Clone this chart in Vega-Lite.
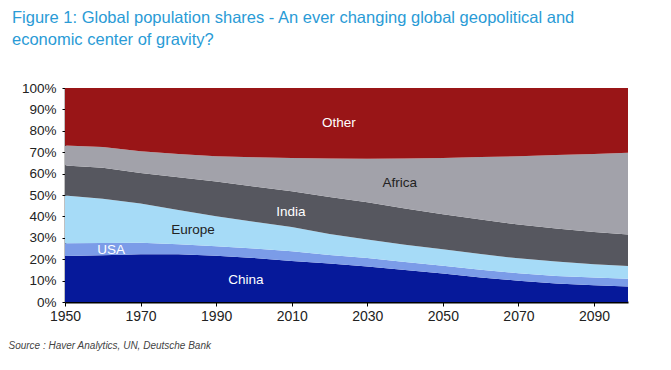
{
  "$schema": "https://vega.github.io/schema/vega-lite/v6.json",
  "width": 563,
  "height": 214,
  "autosize": "none",
  "padding": {"left": 65, "top": 88, "right": 43, "bottom": 68},
  "background": "white",
  "config": {"view": {"stroke": null}, "font": "Liberation Sans", "axis": {"labelOverlap": false}},
  "title": {
    "text": ["Figure 1: Global population shares - An ever changing global geopolitical and", "economic center of gravity?"],
    "anchor": "start",
    "frame": "group",
    "dx": -53,
    "offset": 33,
    "fontSize": 16.5,
    "fontWeight": "normal",
    "color": "#2a9bd6",
    "lineHeight": 22
  },
  "layer": [
    {
      "data": {"values": [
        {"year":1950,"China":21.5,"USA":5.9,"Europe":22.4,"India":14.0,"Africa":9.3,"Other":26.9},
        {"year":1960,"China":21.8,"USA":5.8,"Europe":20.6,"India":14.5,"Africa":9.7,"Other":27.6},
        {"year":1970,"China":22.3,"USA":5.4,"Europe":18.3,"India":14.3,"Africa":10.2,"Other":29.5},
        {"year":1980,"China":22.3,"USA":4.7,"Europe":16.0,"India":15.3,"Africa":10.9,"Other":30.8},
        {"year":1990,"China":21.6,"USA":4.5,"Europe":14.0,"India":16.2,"Africa":11.8,"Other":31.9},
        {"year":2000,"China":20.6,"USA":4.4,"Europe":12.5,"India":16.5,"Africa":13.6,"Other":32.4},
        {"year":2010,"China":19.2,"USA":4.5,"Europe":11.3,"India":16.8,"Africa":15.5,"Other":32.7},
        {"year":2020,"China":18.0,"USA":4.0,"Europe":9.8,"India":17.3,"Africa":17.9,"Other":33.0},
        {"year":2030,"China":16.6,"USA":4.0,"Europe":8.6,"India":17.4,"Africa":20.3,"Other":33.1},
        {"year":2040,"China":14.9,"USA":3.8,"Europe":8.1,"India":16.9,"Africa":23.4,"Other":32.9},
        {"year":2050,"China":13.3,"USA":3.6,"Europe":7.7,"India":16.4,"Africa":26.3,"Other":32.7},
        {"year":2060,"China":11.5,"USA":3.6,"Europe":7.3,"India":16.1,"Africa":29.2,"Other":32.3},
        {"year":2070,"China":9.9,"USA":3.5,"Europe":7.0,"India":15.8,"Africa":31.9,"Other":31.9},
        {"year":2080,"China":8.7,"USA":3.5,"Europe":6.7,"India":15.4,"Africa":34.4,"Other":31.3},
        {"year":2090,"China":7.8,"USA":3.6,"Europe":6.2,"India":15.1,"Africa":36.5,"Other":30.8},
        {"year":2099,"China":7.2,"USA":3.7,"Europe":5.9,"India":14.8,"Africa":38.1,"Other":30.3}
      ]},
      "transform": [
        {"fold": ["China","USA","Europe","India","Africa","Other"], "as": ["region","share"]},
        {"calculate": "indexof(['China','USA','Europe','India','Africa','Other'], datum.region)", "as": "stackOrder"}
      ],
      "mark": {"type": "area", "clip": true},
      "encoding": {
        "x": {
          "field": "year", "type": "quantitative",
          "scale": {"domain": [1950, 2099], "nice": false, "zero": false},
          "axis": {
            "values": [1950,1970,1990,2010,2030,2050,2070,2090],
            "format": "d",
            "grid": false,
            "domainColor": "#000", "domainWidth": 2,
            "tickColor": "#000", "tickSize": 4,
            "labelFontSize": 14, "labelColor": "#222", "labelPadding": 3,
            "labelOverlap": false, "labelFlush": false,
            "title": "Source : Haver Analytics, UN, Deutsche Bank",
            "titleFontStyle": "italic", "titleFontWeight": "normal",
            "titleFontSize": 10, "titleColor": "#444",
            "titleAnchor": "start", "titleAlign": "left",
            "titleX": -57, "titleY": 46, "titleBaseline": "alphabetic"
          }
        },
        "y": {
          "field": "share", "type": "quantitative", "stack": "zero",
          "scale": {"domain": [0, 100], "nice": false},
          "axis": {
            "values": [0,10,20,30,40,50,60,70,80,90,100],
            "tickCount": 11,
            "labelExpr": "datum.value + '%'",
            "grid": false,
            "labelOverlap": false, "labelFlush": false,
            "domainColor": "#000", "domainWidth": 1.5,
            "tickColor": "#000", "tickSize": 3,
            "labelFontSize": 13.5, "labelColor": "#222", "labelPadding": 6,
            "title": null
          }
        },
        "order": {"field": "stackOrder", "type": "quantitative", "sort": "ascending"},
        "color": {
          "field": "region", "type": "nominal",
          "scale": {"domain": ["China","USA","Europe","India","Africa","Other"],
                    "range": ["#06199a","#7b9ce8","#a6dbf7","#56575f","#a2a2aa","#991517"]},
          "legend": null
        }
      }
    },
    {
      "data": {"values": [
        {"label":"Other","year":2022.5,"pos":83.6},
        {"label":"Africa","year":2038.6,"pos":55.6},
        {"label":"India","year":2009.8,"pos":42.0},
        {"label":"Europe","year":1983.9,"pos":33.6},
        {"label":"USA","year":1962.2,"pos":24.3},
        {"label":"China","year":1997.9,"pos":10.3}
      ]},
      "mark": {"type": "text", "fontSize": 13.5, "baseline": "middle", "align": "center"},
      "encoding": {
        "x": {
          "field": "year", "type": "quantitative",
          "axis": {
            "values": [1950,1970,1990,2010,2030,2050,2070,2090],
            "format": "d",
            "grid": false,
            "domainColor": "#000", "domainWidth": 2,
            "tickColor": "#000", "tickSize": 4,
            "labelFontSize": 14, "labelColor": "#222", "labelPadding": 3,
            "labelOverlap": false, "labelFlush": false,
            "title": "Source : Haver Analytics, UN, Deutsche Bank",
            "titleFontStyle": "italic", "titleFontWeight": "normal",
            "titleFontSize": 10, "titleColor": "#444",
            "titleAnchor": "start", "titleAlign": "left",
            "titleX": -57, "titleY": 46, "titleBaseline": "alphabetic"
          }
        },
        "y": {
          "field": "pos", "type": "quantitative",
          "axis": {
            "values": [0,10,20,30,40,50,60,70,80,90,100],
            "tickCount": 11,
            "labelExpr": "datum.value + '%'",
            "grid": false,
            "labelOverlap": false, "labelFlush": false,
            "domainColor": "#000", "domainWidth": 1.5,
            "tickColor": "#000", "tickSize": 3,
            "labelFontSize": 13.5, "labelColor": "#222", "labelPadding": 6,
            "title": null
          }
        },
        "text": {"field": "label"},
        "color": {"condition": {"test": "datum.label === 'Africa' || datum.label === 'Europe'", "value": "#222"}, "value": "#ffffff"}
      }
    }
  ]
}
